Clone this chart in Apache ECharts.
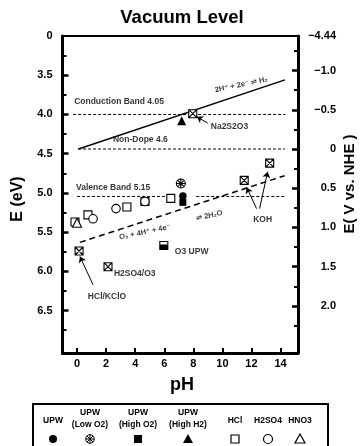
<!DOCTYPE html>
<html><head><meta charset="utf-8">
<script src="https://cdn.jsdelivr.net/npm/echarts@6/dist/echarts.min.js"></script>
<style>html,body{margin:0;padding:0;background:#fff}#c{width:362px;height:446px}</style>
</head><body><div id="c"></div>
<script>
const FONT = '"Liberation Sans", Arial, "DejaVu Sans", sans-serif';

// ---- axis ticks / labels ----
const xTicks = [0, 2, 4, 6, 8, 10, 12, 14];
const yLeftLabels = [3.0, 3.5, 4.0, 4.5, 5.0, 5.5, 6.0, 6.5];
const yLeftMajor = [3.5, 4.0, 4.5, 5.0, 5.5, 6.0, 6.5];
const yLeftMinor = [3.25, 3.75, 4.25, 4.75, 5.25, 5.75, 6.25, 6.75];
const yRightLabels = [-1.44, -1.0, -0.5, 0, 0.5, 1.0, 1.5, 2.0];
const yRightMajor = [-1.0, -0.5, 0, 0.5, 1.0, 1.5, 2.0];
const yRightMinor = [-1.25, -0.75, -0.25, 0.25, 0.75, 1.25, 1.75, 2.25];
const NHE_OFFSET = 4.44;

// ---- reference lines (pH, E eV) ----
const h2Line = [[0.1, 4.44], [14.3, 3.56]];
const o2Line = [[0.2, 5.63], [14.28, 4.78]];
const conductionBand = [[-0.27, 4.0], [14.34, 4.0]];
const nonDope = [[0.07, 4.44], [14.3, 4.44]];
const valenceA = [[0, 5.045], [6.4, 5.045]];
const valenceB = [[8.2, 5.045], [14.3, 5.045]];

// ---- measured points (pH, E eV) ----
const upw = [[7.28, 5.04]];
const upwLowO2 = [[7.14, 4.88]];
const upwHighO2 = [[7.28, 5.12]];
const upwHighH2 = [[7.2, 4.08]];
const hcl = [[-0.14, 5.37], [0.75, 5.28], [3.43, 5.18], [4.67, 5.11], [6.45, 5.07]];
const h2so4 = [[1.1, 5.33], [2.68, 5.20], [4.67, 5.11]];
const hno3 = [[0, 5.38]];
const additives = [[7.96, 3.99], [11.5, 4.84], [13.25, 4.62], [0.14, 5.74], [2.13, 5.94]];
const o3upw = [[5.97, 5.67]];

// ---- annotations ----
const bandTexts = ['Conduction Band 4.05', 'Non-Dope 4.6', 'Valence Band 5.15'];
const bandTextPos = [[-0.2, 3.84], [2.47, 4.32], [-0.07, 4.93]];
const noteTexts = ['Na2S2O3', 'H2SO4/O3', 'O3 UPW'];
const noteTextPos = [[9.2, 4.16], [2.54, 6.03], [6.73, 5.75]];
const centerTexts = ['KOH', 'HCl/KClO'];
const centerTextPos = [[12.77, 5.34], [2.06, 6.32]];
const reactionTexts = ['2H\u207A + 2e\u207B \u21CC H\u2082', 'O\u2082 + 4H\u207A + 4e\u207B', '\u21CC 2H\u2082O'];
const reactionTextPos = [[11.3, 3.62], [4.67, 5.5], [9.1, 5.29]];
const arrows = [
  [[8.99, 4.11], [8.24, 4.03]],
  [[12.35, 5.20], [11.67, 4.93]],
  [[12.56, 5.20], [13.11, 4.73]],
  [[1.1, 6.17], [0.2, 5.81]]
];

// legend
const legendNames = ['UPW', 'UPW\n(Low O2)', 'UPW\n(High O2)', 'UPW\n(High H2)', 'HCl', 'H2SO4', 'HNO3'];

const boxX = 'path://M0,0L10,0L10,10L0,10Z M0,0L10,10 M10,0L0,10';
const circStar = 'path://M10,5A5,5,0,1,1,0,5A5,5,0,1,1,10,5Z M5,0L5,10 M0,5L10,5 M1.46,1.46L8.54,8.54 M8.54,1.46L1.46,8.54';

const chart = echarts.init(document.getElementById('c'), null, {renderer: 'canvas'});

function lineSeries(data, dashed, width) {
  return {type: 'line', data: data, showSymbol: false, symbol: 'none', silent: true, z: 2,
    lineStyle: {color: '#000', width: width, type: dashed || 'solid'}};
}
function scat(data, symbol, size, filled, extra) {
  return Object.assign({type: 'scatter', data: data, symbol: symbol, symbolSize: size, z: 5, silent: true,
    itemStyle: {color: filled ? '#000' : '#fff', borderColor: '#000', borderWidth: filled ? 0 : 1.1, opacity: 1}}, extra || {});
}
function textSeries(texts, pos, align, fontSize, rotate) {
  return {type: 'scatter', symbolSize: 0, silent: true, z: 6,
    data: texts.map((t, i) => ({value: pos[i], label: {show: true, position: 'inside', formatter: t,
      align: align, verticalAlign: 'middle', rotate: rotate || 0, color: '#000', fontFamily: FONT,
      fontWeight: 'bold', fontSize: fontSize}}))};
}

const axisLbl = {color: '#000', fontFamily: FONT, fontWeight: 'bold', fontSize: 11};

const legendX = [53, 90, 138, 188, 235, 268, 300];
const legendGraphics = [];
legendGraphics.push({type: 'rect', shape: {x: 33, y: 404, width: 295, height: 60},
  style: {fill: 'none', stroke: '#000', lineWidth: 2}});
legendNames.forEach((n, i) => {
  const two = n.indexOf('\n') >= 0;
  legendGraphics.push({type: 'text', x: legendX[i], y: two ? 419 : 421,
    style: {text: n, fill: '#000', font: 'bold 8.5px ' + FONT, align: 'center', verticalAlign: 'middle', lineHeight: 12}});
});
const ly = 439;
legendGraphics.push({type: 'circle', shape: {cx: legendX[0], cy: ly, r: 4}, style: {fill: '#000'}});
legendGraphics.push({type: 'group', children: [
  {type: 'circle', shape: {cx: legendX[1], cy: ly, r: 4.3}, style: {fill: '#fff', stroke: '#000', lineWidth: 1}},
  {type: 'line', shape: {x1: legendX[1] - 4.3, y1: ly, x2: legendX[1] + 4.3, y2: ly}, style: {stroke: '#000', lineWidth: 1}},
  {type: 'line', shape: {x1: legendX[1], y1: ly - 4.3, x2: legendX[1], y2: ly + 4.3}, style: {stroke: '#000', lineWidth: 1}},
  {type: 'line', shape: {x1: legendX[1] - 3, y1: ly - 3, x2: legendX[1] + 3, y2: ly + 3}, style: {stroke: '#000', lineWidth: 1}},
  {type: 'line', shape: {x1: legendX[1] + 3, y1: ly - 3, x2: legendX[1] - 3, y2: ly + 3}, style: {stroke: '#000', lineWidth: 1}}
]});
legendGraphics.push({type: 'rect', shape: {x: legendX[2] - 4, y: ly - 4, width: 8, height: 8}, style: {fill: '#000'}});
legendGraphics.push({type: 'polygon', shape: {points: [[legendX[3], ly - 5], [legendX[3] + 5, ly + 4], [legendX[3] - 5, ly + 4]]}, style: {fill: '#000'}});
legendGraphics.push({type: 'rect', shape: {x: legendX[4] - 4, y: ly - 4, width: 8, height: 8}, style: {fill: '#fff', stroke: '#000', lineWidth: 1.2}});
legendGraphics.push({type: 'circle', shape: {cx: legendX[5], cy: ly, r: 4.5}, style: {fill: '#fff', stroke: '#000', lineWidth: 1.2}});
legendGraphics.push({type: 'polygon', shape: {points: [[legendX[6], ly - 5], [legendX[6] + 5, ly + 4], [legendX[6] - 5, ly + 4]]}, style: {fill: '#fff', stroke: '#000', lineWidth: 1.2}});

const option = {
  backgroundColor: '#fff',
  animation: false,
  grid: {left: 62.5, right: 64, top: 36, bottom: 93, show: true, borderColor: '#000', borderWidth: 2, backgroundColor: 'transparent'},
  xAxis: [{
    type: 'value', min: -1, max: 15.2, position: 'bottom',
    axisLine: {show: true, onZero: false, lineStyle: {color: '#000', width: 3}},
    axisTick: {show: true, inside: true, length: 5, customValues: xTicks, lineStyle: {color: '#000', width: 2}},
    axisLabel: Object.assign({customValues: xTicks, margin: 5}, axisLbl),
    splitLine: {show: false}
  }],
  yAxis: [{
    type: 'value', min: 3.0, max: 7.04, inverse: true, position: 'left', offset: 0,
    axisLine: {show: true, onZero: false, lineStyle: {color: '#000', width: 3}},
    axisTick: {show: true, inside: true, length: 6, customValues: yLeftMajor, lineStyle: {color: '#000', width: 2.5}},
    axisLabel: Object.assign({customValues: yLeftLabels, margin: 10,
      formatter: v => Math.abs(v - 3) < 1e-6 ? '0' : v.toFixed(1)}, axisLbl),
    splitLine: {show: false}
  }, {
    type: 'value', min: 3.0 - NHE_OFFSET, max: 7.04 - NHE_OFFSET, inverse: true, position: 'right', offset: 0,
    axisLine: {show: true, onZero: false, lineStyle: {color: '#000', width: 3}},
    axisTick: {show: true, inside: true, length: 6, customValues: yRightMajor, lineStyle: {color: '#000', width: 2.5}},
    axisLabel: Object.assign({customValues: yRightLabels, margin: 38, align: 'right',
      formatter: v => v < -1.4 ? '\u2212' + NHE_OFFSET.toFixed(2) : (Math.abs(v) < 1e-6 ? '0' : (v < 0 ? '\u2212' + (-v).toFixed(1) : v.toFixed(1)))}, axisLbl),
    splitLine: {show: false}
  }, {
    type: 'value', min: 3.0, max: 7.04, inverse: true, position: 'left', offset: 0,
    axisLine: {show: false, onZero: false},
    axisTick: {show: true, inside: true, length: 4, customValues: yLeftMinor, lineStyle: {color: '#000', width: 2}},
    axisLabel: {show: false}, splitLine: {show: false}
  }, {
    type: 'value', min: 3.0 - NHE_OFFSET, max: 7.04 - NHE_OFFSET, inverse: true, position: 'right', offset: 0,
    axisLine: {show: false, onZero: false},
    axisTick: {show: true, inside: true, length: 4, customValues: yRightMinor, lineStyle: {color: '#000', width: 2}},
    axisLabel: {show: false}, splitLine: {show: false}
  }],
  graphic: [
    {type: 'text', x: 182, y: 18, style: {text: 'Vacuum Level', fill: '#000', font: 'bold 18.5px ' + FONT, align: 'center', verticalAlign: 'middle'}},
    {type: 'text', x: 18, y: 199, rotation: Math.PI / 2, style: {text: 'E (eV)', fill: '#000', font: 'bold 16px ' + FONT, align: 'center', verticalAlign: 'middle'}},
    {type: 'text', x: 350, y: 184, rotation: Math.PI / 2, style: {text: 'E( V vs. NHE )', fill: '#000', font: 'bold 15px ' + FONT, align: 'center', verticalAlign: 'middle'}},
    {type: 'text', x: 182, y: 385, style: {text: 'pH', fill: '#000', font: 'bold 18px ' + FONT, align: 'center', verticalAlign: 'middle'}}
  ].concat(legendGraphics),
  series: [
    lineSeries(h2Line, 'solid', 1.4),
    lineSeries(o2Line, [6, 4], 1.5),
    lineSeries(conductionBand, [3, 2], 1),
    lineSeries(nonDope, [3, 2], 1),
    lineSeries(valenceA, [3, 2], 1),
    lineSeries(valenceB, [3, 2], 1),
    {type: 'lines', coordinateSystem: 'cartesian2d', silent: true, z: 4,
      symbol: ['none', 'arrow'], symbolSize: 6,
      lineStyle: {color: '#000', width: 1, opacity: 1},
      data: arrows.map(a => ({coords: a}))},
    scat(hcl, 'rect', 8, false),
    scat(h2so4, 'circle', 8.5, false),
    scat(hno3, 'triangle', 9, false),
    scat(upwHighO2, 'rect', 7, true),
    scat(upw, 'circle', 7.5, true),
    scat(upwLowO2, circStar, 9, false),
    scat(upwHighH2, 'triangle', 9, true),
    scat(additives, boxX, 8, false),
    scat(o3upw, 'rect', 8, false),
    scat(o3upw, 'rect', [8, 5], true, {symbolOffset: [0, 1.5], z: 6}),
    textSeries(bandTexts, bandTextPos, 'left', 8.5),
    textSeries(noteTexts, noteTextPos, 'left', 8.5),
    textSeries(centerTexts, centerTextPos, 'center', 8.5),
    textSeries(reactionTexts.slice(0, 1), reactionTextPos.slice(0, 1), 'center', 7.5, 12),
    textSeries(reactionTexts.slice(1), reactionTextPos.slice(1), 'center', 7.5, 12)
  ]
};
chart.setOption(option);
</script>
</body></html>
